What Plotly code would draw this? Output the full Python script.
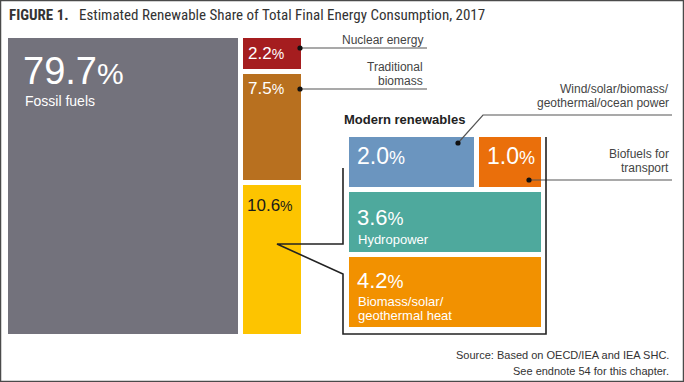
import plotly.graph_objects as go

# ---------------- data ----------------
main_categories = ["Fossil fuels", "Nuclear energy", "Traditional biomass", "Modern renewables"]
main_shares = [79.7, 2.2, 7.5, 10.6]
main_colors = ["#73727c", "#a51d1f", "#b8701f", "#fdc400"]

modern_categories = ["Wind/solar/biomass/geothermal/ocean power", "Biofuels for transport",
                     "Hydropower", "Biomass/solar/geothermal heat"]
modern_shares = [2.0, 1.0, 3.6, 4.2]
modern_colors = ["#6b95bf", "#ea6f0b", "#4ea99d", "#f29100"]

TITLE_BOLD = "FIGURE 1."
TITLE = "Estimated Renewable Share of Total Final Energy Consumption, 2017"
SOURCE = ["Source: Based on OECD/IEA and IEA SHC.", "See endnote 54 for this chapter."]

W, H = 684, 382
FONT = "Liberation Sans, Arial, sans-serif"
NARROW = "Liberation Sans Narrow, Roboto Condensed, Liberation Sans, sans-serif"


def px(x):
    return x / W


def py(y):
    return 1 - y / H


fig = go.Figure()

# ---------- main mosaic (subplot 1) ----------
d1x = (8, 301)
d1y = (38, 334)
gap_px = 5
rest = sum(main_shares[1:])
gx = gap_px * 100 / ((d1x[1] - d1x[0]) - gap_px)
gy = gap_px * 100 / ((d1y[1] - d1y[0]) - 2 * gap_px)
x1max = 100 + gx
y1max = 100 + 2 * gy

rects1 = []  # (left, width, base, height)
rects1.append((0, main_shares[0], 0, y1max))
top = y1max
for v in main_shares[1:]:
    h = v / rest * 100
    rects1.append((main_shares[0] + gx, rest, top - h, h))
    top = top - h - gy

for (l, w, b, h), c, name in zip(rects1, main_colors, main_categories):
    fig.add_trace(go.Bar(x=[l + w / 2], y=[h], base=[b], width=[w], marker_color=c,
                         marker_line_width=0, name=name, hoverinfo="skip",
                         xaxis="x", yaxis="y", showlegend=False))

# ---------- modern renewables (subplot 2) ----------
d2x = (349, 541)
d2y = (137, 327)
row1 = modern_shares[0] + modern_shares[1]
gx2 = gap_px * row1 / ((d2x[1] - d2x[0]) - gap_px)
tot2 = row1 + modern_shares[2] + modern_shares[3]
gy2 = 5.5 * tot2 / ((d2y[1] - d2y[0]) - 11)
x2max = row1 + gx2
y2max = tot2 + 2 * gy2

rects2 = []
t = y2max
rects2.append((0, modern_shares[0], t - row1, row1))
rects2.append((modern_shares[0] + gx2, modern_shares[1], t - row1, row1))
t = t - row1 - gy2
rects2.append((0, x2max, t - modern_shares[2], modern_shares[2]))
t = t - modern_shares[2] - gy2
rects2.append((0, x2max, t - modern_shares[3], modern_shares[3]))

for (l, w, b, h), c, name in zip(rects2, modern_colors, modern_categories):
    fig.add_trace(go.Bar(x=[l + w / 2], y=[h], base=[b], width=[w], marker_color=c,
                         marker_line_width=0, name=name, hoverinfo="skip",
                         xaxis="x2", yaxis="y2", showlegend=False))

ax = dict(visible=False, fixedrange=True)
fig.update_layout(
    width=W, height=H, margin=dict(l=0, r=0, t=0, b=0),
    paper_bgcolor="white", plot_bgcolor="rgba(0,0,0,0)",
    barmode="overlay", bargap=0,
    xaxis=dict(domain=[px(d1x[0]), px(d1x[1])], range=[0, x1max], **ax),
    yaxis=dict(domain=[py(d1y[1]), py(d1y[0])], range=[0, y1max], **ax),
    xaxis2=dict(domain=[px(d2x[0]), px(d2x[1])], range=[0, x2max], anchor="y2", **ax),
    yaxis2=dict(domain=[py(d2y[1]), py(d2y[0])], range=[0, y2max], anchor="x2", **ax),
    font=dict(family=FONT),
)

ann = []


def pct(v, size, psize):
    return f"{v}<span style='font-size:{psize}px'>%</span>"


def label(x, y, text, size, color="white", xanchor="left", bold=False, family=FONT):
    ann.append(dict(x=px(x), y=py(y), xref="paper", yref="paper", text=f"<b>{text}</b>" if bold else text,
                    showarrow=False, xanchor=xanchor, yanchor="middle", align=xanchor,
                    font=dict(size=size, color=color, family=family)))


# value labels inside boxes
label(21, 71, pct(main_shares[0], 38, 30), 38)
label(23, 101, main_categories[0], 14)
label(246, 54, pct(main_shares[1], 17, 14), 17)
label(246, 88, pct(main_shares[2], 17, 14), 17)
label(245, 206, pct(main_shares[3], 17, 14), 17, color="#1a1a1a")
label(355, 156, pct(modern_shares[0], 23, 18), 23)
label(485, 156, pct(modern_shares[1], 23, 18), 23)
label(355, 217, pct(modern_shares[2], 22, 18), 22)
label(356, 239, "Hydropower", 13)
label(355, 280, pct(modern_shares[3], 22, 18), 22)
label(356, 301, "Biomass/solar/", 13)
label(356, 315, "geothermal heat", 13)

# callout texts
co = "#444444"
label(425, 40, "Nuclear energy", 12, co, "right")
label(425, 67, "Traditional", 12, co, "right")
label(425, 81, "biomass", 12, co, "right")
label(671, 89, "Wind/solar/biomass/", 12, co, "right")
label(671, 103, "geothermal/ocean power", 12, co, "right")
label(342, 119, "Modern renewables", 13, "#222222", bold=True)
label(671, 154, "Biofuels for", 12, co, "right")
label(671, 168, "transport", 12, co, "right")

# title & source
label(7, 15, f"<b>{TITLE_BOLD}</b>   {TITLE}", 15, "#333333", family=NARROW)
label(671, 355, SOURCE[0], 11, "#333333", "right")
label(671, 371, SOURCE[1], 11, "#333333", "right")

fig.update_layout(annotations=ann)

shapes = []


def path(points, color="#555555", width=1.2):
    d = "M " + " L ".join(f"{px(a):.5f},{py(b):.5f}" for a, b in points)
    shapes.append(dict(type="path", path=d, xref="paper", yref="paper",
                       line=dict(color=color, width=width), fillcolor="rgba(0,0,0,0)"))


def dot(x, y, r=2.6):
    shapes.append(dict(type="circle", xref="paper", yref="paper",
                       x0=px(x - r), x1=px(x + r), y0=py(y + r), y1=py(y - r),
                       fillcolor="#111111", line=dict(width=0)))


path([(300, 48), (427, 48)])
dot(300, 48)
path([(300, 89), (427, 89)])
dot(300, 89)
path([(458, 143), (483, 115), (672, 115)])
dot(458, 143)
path([(529, 180), (672, 180)])
dot(529, 180)

# modern renewables bracket / callout
path([(343, 168), (343, 244), (277, 244), (343, 274), (343, 334), (546, 334), (546, 137)],
     color="#222222", width=1.6)

# frame
shapes.append(dict(type="rect", xref="paper", yref="paper", x0=0, x1=1, y0=0, y1=1,
                   line=dict(color="#4a4a4a", width=2.5), fillcolor="rgba(0,0,0,0)"))

fig.update_layout(shapes=shapes)

fig.write_html("out.html", config={"displayModeBar": False, "staticPlot": True},
               post_script="document.body.style.margin='0';document.body.style.overflow='hidden';")
